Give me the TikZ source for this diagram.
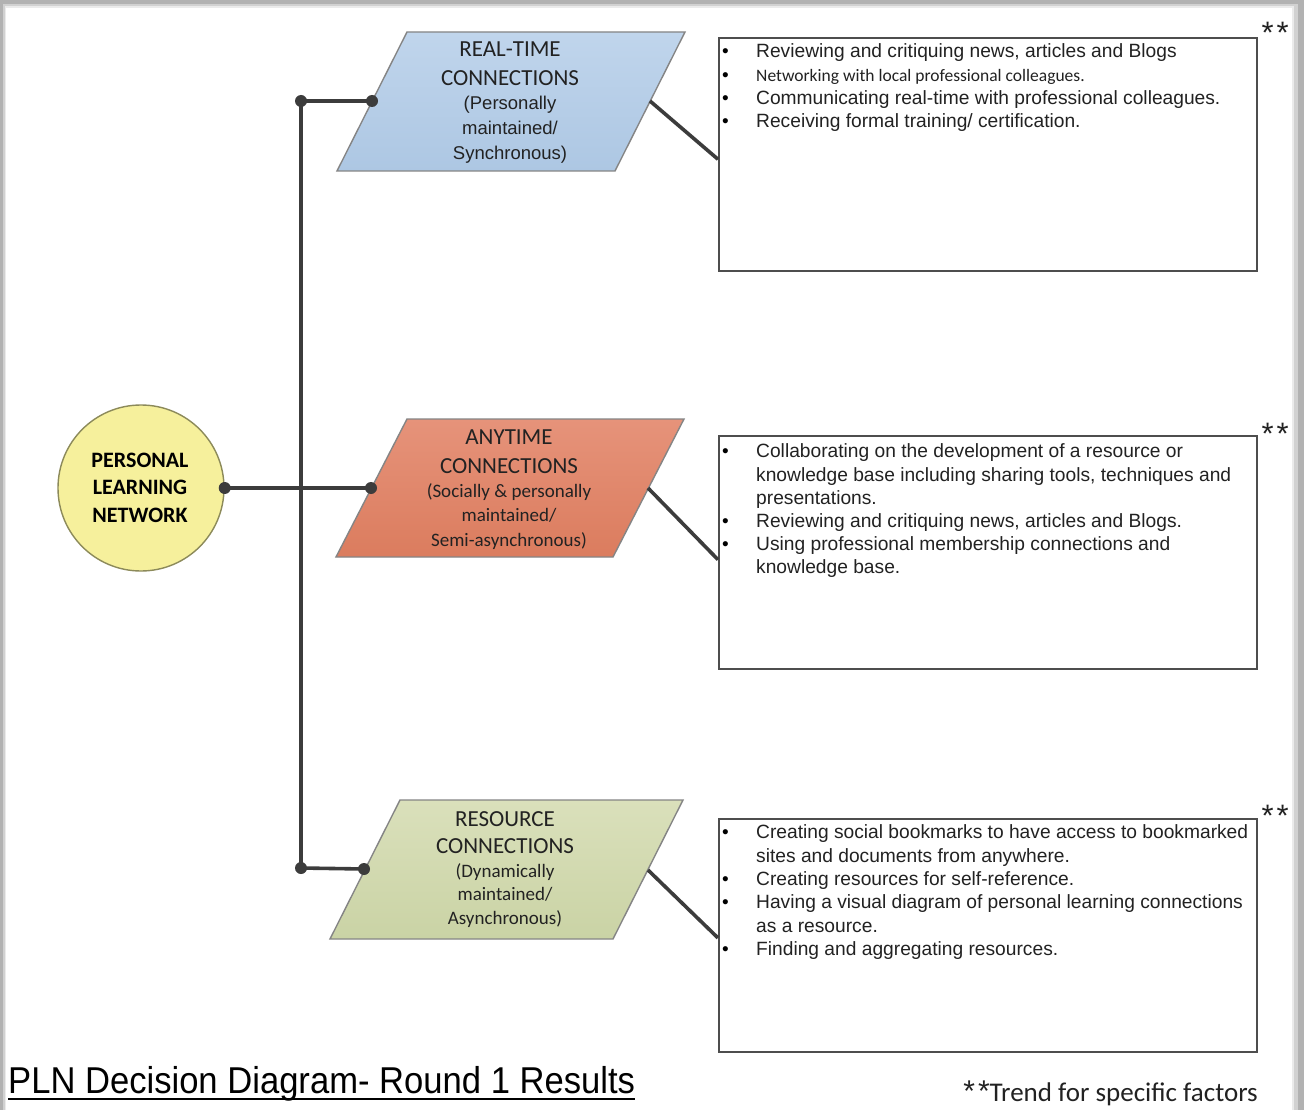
\documentclass[tikz,border=0pt]{standalone}
\usepackage{fontspec}
\setmainfont{Liberation Sans}
\newfontfamily\calib{Carlito}
\usetikzlibrary{calc}

\definecolor{linegray}{HTML}{3C3C3C}
\definecolor{boxgray}{HTML}{4E4E4E}
\definecolor{paraedge}{HTML}{858585}
\definecolor{txt}{HTML}{222222}
\definecolor{rtTop}{HTML}{C0D5EC}
\definecolor{rtBot}{HTML}{ADC7E3}
\definecolor{atTop}{HTML}{E6937A}
\definecolor{atBot}{HTML}{DB7C5E}
\definecolor{rcTop}{HTML}{DAE0BB}
\definecolor{rcBot}{HTML}{CAD3A5}
\definecolor{plnfill}{HTML}{F6F09C}
\definecolor{plnedge}{HTML}{8C8A5A}

% bullet line and continuation line inside a list box
\newcommand\entry[4][]{%
  \node[bulletmark] (#2-dot) at (722,#3) {\textbullet};
  \node[body,#1] (#2) at (756,#3) {#4};}
\newcommand\more[3]{\node[body] (#1) at (756,#2) {#3};}
% one centred line of a label
\newcommand\tline[4][]{\node[label line,#1] (#2) at #3 {#4};}
% spaced double asterisk
\newcommand\twostars{*\kern3pt*}

\begin{document}
\begin{tikzpicture}[x=1pt,y=-1pt,
  link/.style={draw=linegray,line width=3.6pt},
  joint/.style={fill=linegray},
  para/.style={draw=paraedge,line width=1.4pt},
  listbox/.style={draw=boxgray,line width=2.2pt,fill=white,minimum width=538pt,
    minimum height=233pt,inner sep=0pt,anchor=north west},
  body/.style={font=\fontsize{19.2}{23}\selectfont,text=txt,inner sep=0pt,anchor=base west},
  bulletmark/.style={font=\fontsize{19}{20}\selectfont,text=black,inner sep=0pt,anchor=base west},
  label line/.style={inner sep=0pt,anchor=base,text=txt},
  head/.style={font=\calib\fontsize{23}{26}\selectfont},
  sub/.style={font=\calib\fontsize{19}{22}\selectfont},
  subarial/.style={font=\fontsize{18.5}{22}\selectfont},
  stars/.style={font=\fontsize{31}{32}\selectfont,inner sep=0pt,anchor=base east,text=txt}]

\useasboundingbox (0,0) rectangle (1304,1110);

% page frame
\fill[black!30] (0,0) rectangle (1304,1110);
\fill[black!18] (3,4) rectangle (1298,1110);
\fill[black!8] (5,6) rectangle (1294,1110);
\fill[white] (6,8) rectangle (1292,1110);

% parallelograms
\path[para,top color=rtTop,bottom color=rtBot,draw=paraedge]
  (407,32) -- (685,32) -- (615,171) -- (337,171) -- cycle;
\path[para,top color=atTop,bottom color=atBot,draw=paraedge]
  (407,419) -- (684,419) -- (613,557) -- (336,557) -- cycle;
\path[para,top color=rcTop,bottom color=rcBot,draw=paraedge]
  (400,800) -- (683,800) -- (613,939) -- (330,939) -- cycle;

\coordinate (rt-in) at (372,101);  \coordinate (rt-out) at (650,101);
\coordinate (at-in) at (371,488);  \coordinate (at-out) at (648,488);
\coordinate (rc-in) at (364,869);  \coordinate (rc-out) at (648,870);
\coordinate (trunk-top) at (301,101);
\coordinate (trunk-bot) at (301,868);

% list boxes
\node[listbox] (rtbox) at (718,37) {};
\node[listbox] (atbox) at (718,435) {};
\node[listbox] (rcbox) at (718,818) {};

% central circle
\node[circle,draw=plnedge,line width=1.4pt,fill=plnfill,minimum size=166pt,inner sep=0pt]
  (pln) at (141,488) {};

% connectors
\draw[link] (trunk-top) -- (trunk-bot);
\draw[link] (trunk-top) -- (rt-in);
\draw[link] (trunk-bot) -- (rc-in);
\draw[link] (pln.east) -- (at-in);
\draw[link] (rt-out) -- ($(rtbox.north west)!0.52!(rtbox.south west)$);
\draw[link] (at-out) -- ($(atbox.north west)!0.53!(atbox.south west)$);
\draw[link] (rc-out) -- ($(rcbox.north west)!0.51!(rcbox.south west)$);
\foreach \p in {trunk-top,trunk-bot,rt-in,at-in,rc-in,pln.east}
  \fill[joint] (\p) circle[radius=6pt];

% circle label
\tline[font=\calib\bfseries\fontsize{22}{24}\selectfont,text=black]{pl1}{(140,467)}{PERSONAL}
\tline[font=\calib\bfseries\fontsize{22}{24}\selectfont,text=black]{pl2}{(140,494)}{LEARNING}
\tline[font=\calib\bfseries\fontsize{22}{24}\selectfont,text=black]{pl3}{(140,522)}{NETWORK}

% real-time label
\tline[head]{rt1}{(510,57)}{REAL-TIME}
\tline[head]{rt2}{(510,86)}{CONNECTIONS}
\tline[subarial]{rt3}{(510,110)}{(Personally}
\tline[subarial]{rt4}{(510,135)}{maintained/}
\tline[subarial]{rt5}{(510,160)}{Synchronous)}

% anytime label
\tline[head]{at1}{(509,444)}{ANYTIME}
\tline[head]{at2}{(509,473)}{CONNECTIONS}
\tline[sub]{at3}{(509,497)}{(Socially \& personally}
\tline[sub]{at4}{(509,521)}{maintained/}
\tline[sub]{at5}{(509,546)}{Semi-asynchronous)}

% resource label
\tline[head]{rc1}{(505,826)}{RESOURCE}
\tline[head]{rc2}{(505,853)}{CONNECTIONS}
\tline[sub]{rc3}{(505,877)}{(Dynamically}
\tline[sub]{rc4}{(505,900)}{maintained/}
\tline[sub]{rc5}{(505,924)}{Asynchronous)}

% real-time list
\entry{rtA}{58}{Reviewing and critiquing news, articles and Blogs}
\entry[font=\calib\fontsize{17.5}{21}\selectfont]{rtB}{82}{Networking with local professional colleagues.}
\entry{rtC}{105}{Communicating real-time with professional colleagues.}
\entry{rtD}{128}{Receiving formal training/ certification.}

% anytime list
\entry{atA}{457}{Collaborating on the development of a resource or}
\more{atA2}{481}{knowledge base including sharing tools, techniques and}
\more{atA3}{504}{presentations.}
\entry{atB}{527}{Reviewing and critiquing news, articles and Blogs.}
\entry{atC}{550}{Using professional membership connections and}
\more{atC2}{573}{knowledge base.}

% resource list
\entry{rcA}{838}{Creating social bookmarks to have access to bookmarked}
\more{rcA2}{862}{sites and documents from anywhere.}
\entry{rcB}{885}{Creating resources for self-reference.}
\entry{rcC}{908}{Having a visual diagram of personal learning connections}
\more{rcC2}{932}{as a resource.}
\entry{rcD}{955}{Finding and aggregating resources.}

% trend marks
\node[stars] (rtstar) at (1289,44) {\twostars};
\node[stars] (atstar) at (1289,444) {\twostars};
\node[stars] (rcstar) at (1289,826) {\twostars};

% title and footnote
\node[anchor=base west,inner sep=0pt,font=\fontsize{34.6}{40}\selectfont,text=black]
  (title) at (8,1093) {\scalebox{1}[1.08]{PLN Decision Diagram- Round 1 Results}};
\draw[line width=2pt,black] ($(title.base west)+(0,6)$) -- ($(title.base east)+(0,6)$);
\node[anchor=base east,inner sep=0pt,font=\calib\fontsize{27}{30}\selectfont,text=txt]
  (trend) at (1258,1101) {{\normalfont\fontsize{30}{32}\selectfont\twostars}Trend for specific factors};
\end{tikzpicture}
\end{document}
